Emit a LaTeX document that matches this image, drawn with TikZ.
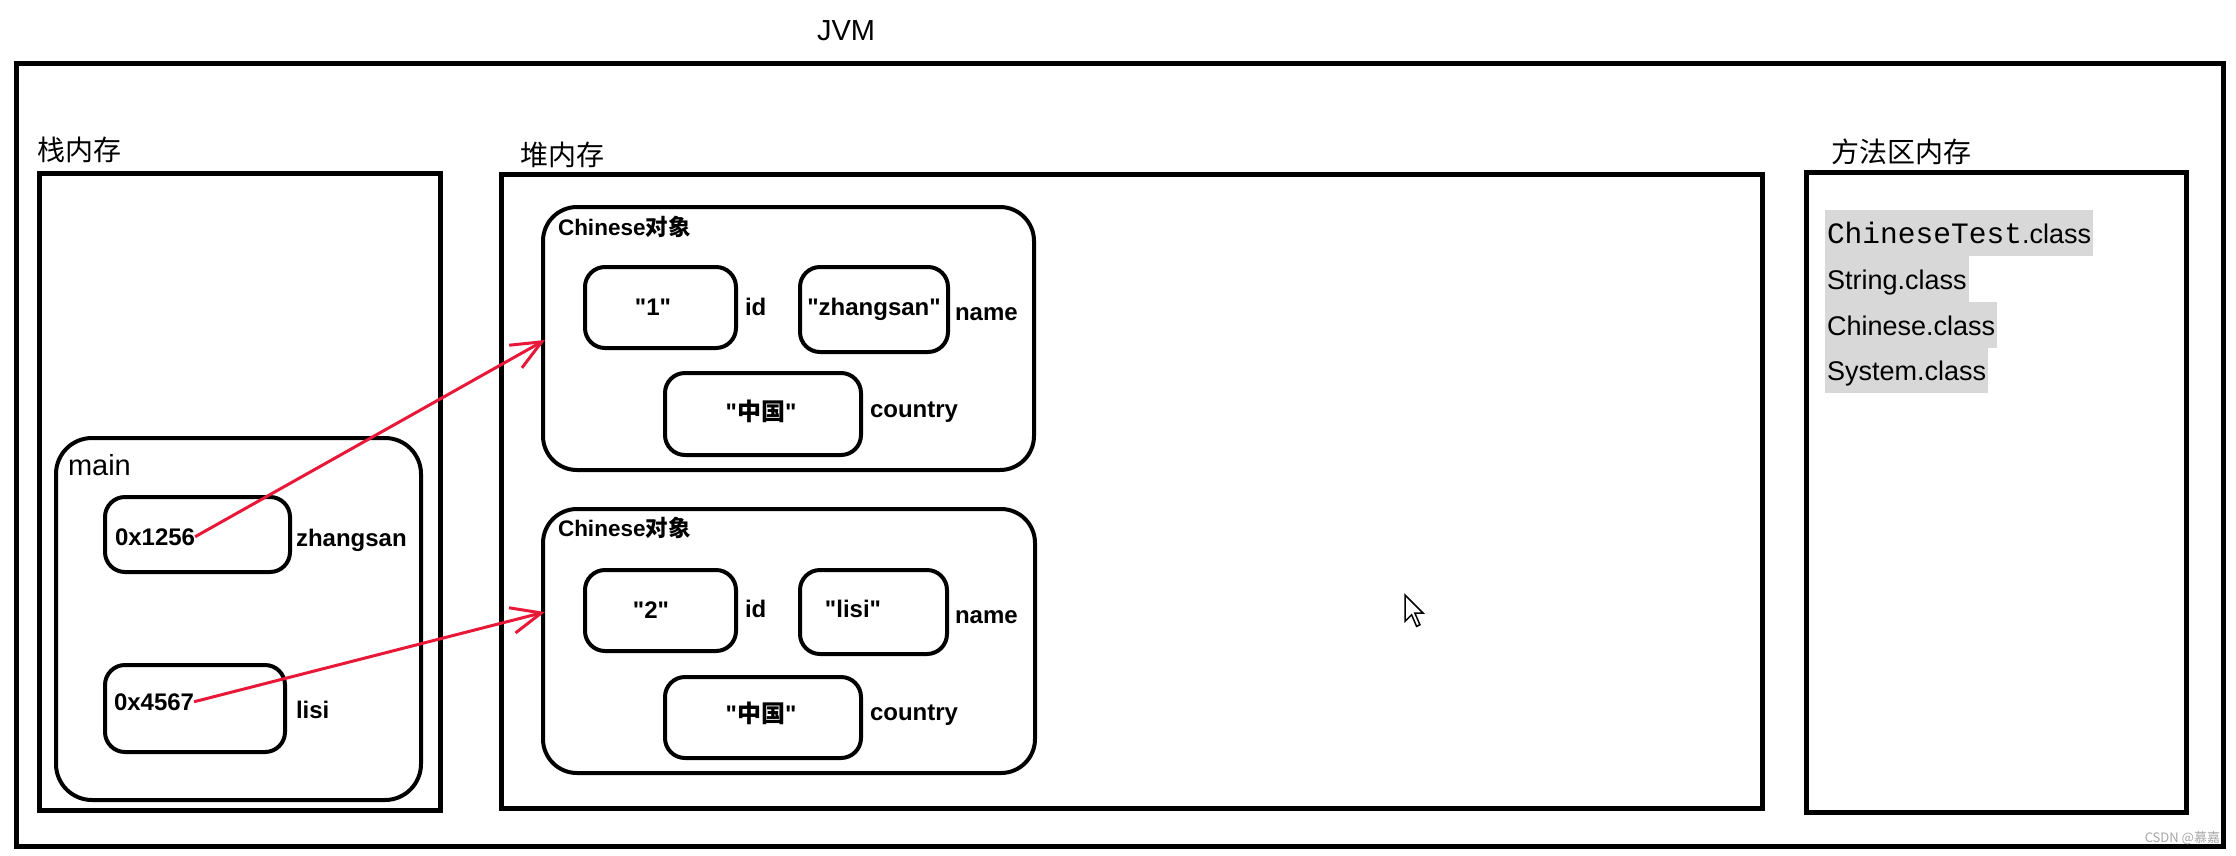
\documentclass[tikz,border=0pt]{standalone}
\usepackage{fontspec}
\usepackage{graphicx}
\setmainfont{Liberation Sans}[Ligatures=TeXOff]
\newfontfamily\monof{Liberation Mono}
\newfontfamily\cjk{Noto Sans CJK SC}
\usetikzlibrary{arrows.meta,fit}
\definecolor{refred}{RGB}{232,24,56}
\definecolor{hlgray}{RGB}{216,216,216}
\begin{document}
\begin{tikzpicture}[x=1pt,y=-1pt,
  bigbox/.style={draw,line width=5pt,inner sep=0pt},
  objbox/.style={draw,line width=4pt,rounded corners=34pt,inner sep=0pt},
  valbox/.style={draw,line width=4pt,rounded corners=20pt,inner sep=0pt},
  txt/.style={inner sep=0pt,outer sep=0pt},
  blab/.style={txt,font=\fontsize{24}{28}\selectfont\bfseries},
  olab/.style={txt,font=\fontsize{22.5}{26}\selectfont\bfseries},
  area/.style={txt,font=\cjk\fontsize{28}{32}\selectfont},
  plain/.style={txt,font=\fontsize{29}{34}\selectfont},
  cls/.style={txt,fill=hlgray,inner xsep=2pt,text height=33pt,text depth=13pt,font=\fontsize{27}{32}\selectfont},
  refarrow/.style={draw=refred,line width=3pt,-{Straight Barb[length=30pt,width=26pt,line width=3pt]}},
]
\useasboundingbox (0,0) rectangle (2236,855);

% JVM frame
\node[bigbox,fit={(16,63)(2223,846)}] (jvm) {};
\node[plain,anchor=base] (jvmlab) at (846,40) {JVM};

% stack
\node[bigbox,fit={(39,173)(440,810)}] (stack) {};
\node[area,anchor=base west] (stacklab) at (37,160) {栈内存};
\node[objbox,rounded corners=36pt,fit={(56,438)(421,800)}] (main) {};
\node[plain,anchor=base west] (mainlab) at (68,475) {main};
\node[valbox,fit={(105,497)(290,572)}] (r1) {};
\node[blab,anchor=base west] (a1) at (115,545) {0x1256};
\node[blab,anchor=base west] (v1) at (296,546) {zhangsan};
\node[valbox,fit={(105,665)(285,752)}] (r2) {};
\node[blab,anchor=base west] (a2) at (114,710) {0x4567};
\node[blab,anchor=base west] (v2) at (296,718) {lisi};

% heap
\node[bigbox,fit={(501,174)(1762,808)}] (heap) {};
\node[area,anchor=base west] (heaplab) at (520,165) {堆内存};

\node[objbox,fit={(543,207)(1034,470)}] (o1) {};
\node[olab,anchor=base west] (o1lab) at (558,235) {Chinese{\cjk\bfseries 对象}};
\node[valbox,fit={(585,267)(736,348)}] (id1) {};
\node[blab,anchor=base] (id1v) at (653,315) {"1"};
\node[blab,anchor=base west] (id1l) at (745,315) {id};
\node[valbox,fit={(800,267)(948,352)}] (nm1) {};
\node[blab,anchor=base] (nm1v) at (874,315) {"zhangsan"};
\node[blab,anchor=base west] (nm1l) at (955,320) {name};
\node[valbox,fit={(665,373)(861,455)}] (ct1) {};
\node[blab,anchor=base] (ct1v) at (761,420) {"{\cjk\bfseries 中国}"};
\node[blab,anchor=base west] (ct1l) at (870,417) {country};

\node[objbox,fit={(543,509)(1035,773)}] (o2) {};
\node[olab,anchor=base west] (o2lab) at (558,536) {Chinese{\cjk\bfseries 对象}};
\node[valbox,fit={(585,570)(736,651)}] (id2) {};
\node[blab,anchor=base] (id2v) at (651,618) {"2"};
\node[blab,anchor=base west] (id2l) at (745,617) {id};
\node[valbox,fit={(800,570)(947,654)}] (nm2) {};
\node[blab,anchor=base] (nm2v) at (853,617) {"lisi"};
\node[blab,anchor=base west] (nm2l) at (955,623) {name};
\node[valbox,fit={(665,677)(861,758)}] (ct2) {};
\node[blab,anchor=base] (ct2v) at (761,722) {"{\cjk\bfseries 中国}"};
\node[blab,anchor=base west] (ct2l) at (870,720) {country};

% references
\coordinate (t1) at (545,340);
\coordinate (t2) at (545,612);
\draw[refarrow] (a1.east) -- (t1);
\draw[refarrow] (a2.east) -- (t2);

% method area
\node[bigbox,fit={(1806,172)(2186,812)}] (method) {};
\node[area,anchor=base west] (methodlab) at (1831,162) {方法区内存};
\node[cls,anchor=base west] (c1) at (1825,243) {\resizebox{195pt}{!}{\monof\fontsize{29.5}{32}\selectfont ChineseTest}.class};
\node[cls,anchor=base west] (c2) at (1825,289) {String.class};
\node[cls,anchor=base west] (c3) at (1825,335) {Chinese.class};
\node[cls,anchor=base west] (c4) at (1825,380) {System.class};

% mouse pointer
\draw[line width=1.5pt,fill=white,line join=miter]
  (1405,595) -- (1405,621.4) -- (1411.6,614.8) -- (1416.6,626.4)
  -- (1419.9,624.7) -- (1414.9,613.2) -- (1423.2,613.2) -- cycle;

% watermark
\node[txt,font=\cjk\fontsize{13}{15}\selectfont,text=gray!70,anchor=base east] (wm) at (2220,842) {CSDN @慕嘉};
\end{tikzpicture}
\end{document}
